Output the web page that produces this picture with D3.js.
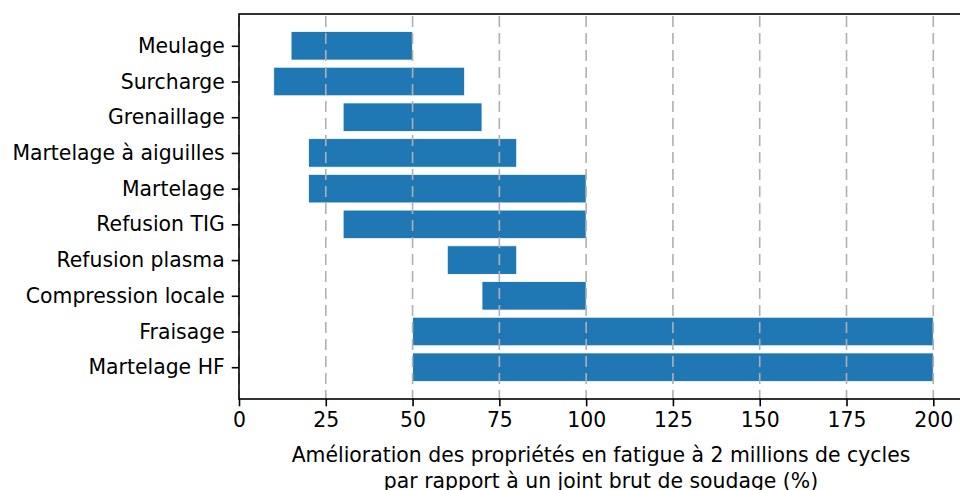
<!DOCTYPE html>
<html>
<head>
<meta charset="utf-8">
<script src="https://cdn.jsdelivr.net/npm/d3@7"></script>
<style>
  body { margin: 0; background: #fff; }
  svg { display: block; }
  text { font-family: "DejaVu Sans", sans-serif; fill: #000; }
</style>
</head>
<body>
<div id="chart"></div>
<script>
// procédés d'amélioration, de haut en bas
var categories = ["Meulage", "Surcharge", "Grenaillage", "Martelage à aiguilles", "Martelage",
  "Refusion TIG", "Refusion plasma", "Compression locale", "Fraisage", "Martelage HF"];
var lowValues  = [15, 10, 30, 20, 20, 30, 60, 70, 50, 50];
var highValues = [50, 65, 70, 80, 100, 100, 80, 100, 200, 200];
var xTicks = [0, 25, 50, 75, 100, 125, 150, 175, 200];
var xLabelLines = ["Amélioration des propriétés en fatigue à 2 millions de cycles",
  "par rapport à un joint brut de soudage (%)"];

var width = 960, height = 490;
var margin = {left: 239, top: 14, right: -8, bottom: 91};
var fontSize = 20.4;

var svg = d3.select("#chart").append("svg")
  .attr("width", width)
  .attr("height", height);

var x = d3.scaleLinear()
  .domain([0, 210])
  .range([margin.left, width - margin.right]);

// index positions like matplotlib: -0.89 .. 9.89 top to bottom
var y = d3.scaleLinear()
  .domain([-0.89, categories.length - 1 + 0.89])
  .range([margin.top, height - margin.bottom]);

var bandH = y(0.4) - y(-0.4);

var data = categories.map(function(c, i) {
  return {name: c, i: i, lo: lowValues[i], hi: highValues[i]};
});

// bars
svg.append("g").selectAll("rect")
  .data(data)
  .enter()
  .append("rect")
  .attr("x", function(d) { return x(d.lo); })
  .attr("y", function(d) { return y(d.i) - bandH / 2; })
  .attr("width", function(d) { return x(d.hi) - x(d.lo); })
  .attr("height", bandH)
  .attr("fill", "#1f77b4")
  .attr("stroke", "#ffffff")
  .attr("stroke-width", 0.8);

// grid (above the bars, like the original)
svg.append("g").selectAll("line")
  .data(xTicks)
  .enter()
  .append("line")
  .attr("x1", function(d) { return x(d); })
  .attr("x2", function(d) { return x(d); })
  .attr("y1", margin.top)
  .attr("y2", height - margin.bottom)
  .attr("stroke", "#b0b0b0")
  .attr("stroke-width", 1.6)
  .attr("stroke-dasharray", "11,6")
  .attr("stroke-dashoffset", -2);

// x axis
var xAxis = d3.axisBottom(x)
  .tickValues(xTicks)
  .tickFormat(d3.format("d"))
  .tickSize(7.3)
  .tickPadding(6);

var gx = svg.append("g")
  .attr("transform", "translate(0," + (height - margin.bottom) + ")")
  .call(xAxis);

// y axis
var yAxis = d3.axisLeft(y)
  .tickValues(d3.range(categories.length))
  .tickFormat(function(d) { return categories[d]; })
  .tickSize(7.3)
  .tickPadding(7);

var gy = svg.append("g")
  .attr("transform", "translate(" + margin.left + ",0)")
  .call(yAxis);

[gx, gy].forEach(function(g) {
  g.select(".domain").remove();
  g.selectAll(".tick line").attr("stroke", "#000").attr("stroke-width", 1.6);
  g.selectAll(".tick text").style("font-size", fontSize + "px").attr("fill", "#000");
});

// spines
var spines = svg.append("g").attr("fill", "none").attr("stroke", "#000").attr("stroke-width", 1.6);
spines.append("rect")
  .attr("x", margin.left)
  .attr("y", margin.top)
  .attr("width", x(210) - margin.left)
  .attr("height", height - margin.bottom - margin.top);

// x label
var cx = (x(0) + x(210)) / 2 - 2.5;
svg.append("g").selectAll("text")
  .data(xLabelLines)
  .enter()
  .append("text")
  .attr("x", cx)
  .attr("y", function(d, i) { return 462 + i * 25.5; })
  .attr("text-anchor", "middle")
  .style("font-size", fontSize + "px")
  .text(function(d) { return d; });
</script>
</body>
</html>
